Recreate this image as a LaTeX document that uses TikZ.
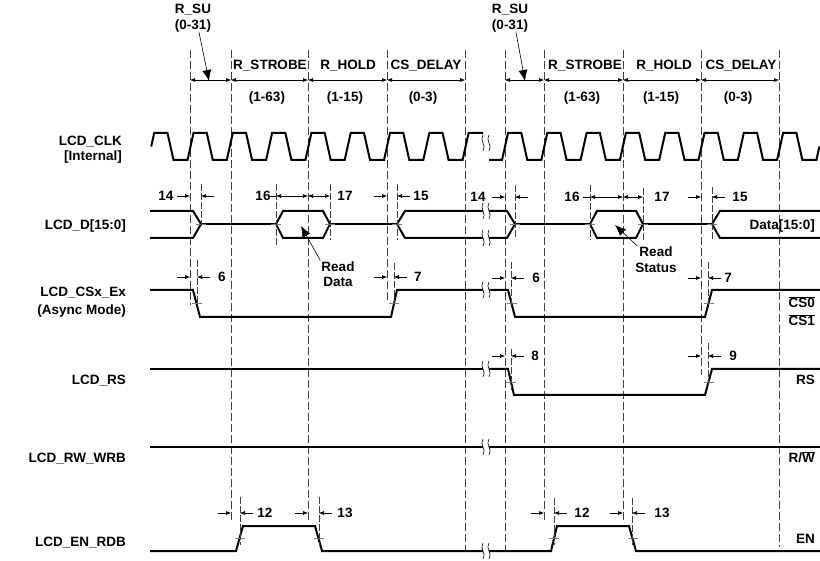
\documentclass[tikz,border=0pt]{standalone}
\usepackage{fontspec}
\setmainfont{Liberation Sans}
\usetikzlibrary{arrows.meta}
\tikzstyle{sig} = [line width=2pt, line join=miter]
\tikzstyle{guide} = [line width=0.6pt, black!75, dash pattern=on 8pt off 3pt]
\tikzstyle{extline} = [line width=0.5pt, black!75, dash pattern=on 7pt off 2pt]
\tikzstyle{dimarrow} = [line width=0.6pt, {Latex[length=5pt,width=4pt]}-{Latex[length=5pt,width=4pt]}]
\tikzstyle{toarrow} = [line width=0.6pt, -{Latex[length=5pt,width=4pt]}]
\tikzstyle{ptr} = [line width=0.6pt, -{Latex[length=11pt,width=9pt]}]
\tikzstyle{midtick} = [line width=0.5pt, black!50]
\tikzstyle{brk} = [line width=0.6pt]
\tikzstyle{lbl} = [font=\fontsize{13.5}{15}\selectfont\bfseries, inner sep=1pt]
\tikzstyle{flat} = [lbl, text height=10pt, text depth=0pt]

\begin{document}
\begin{tikzpicture}[x=1pt, y=-1pt]
\useasboundingbox (0,0) rectangle (820,561);

% guide lines
\foreach \x/\yb in {190/305, 231/522, 308/522, 387/303, 465/550, 505/550, 544/522, 623/522, 701/375, 779/547}
  \draw[guide] (\x,50) -- (\x,\yb);

% register fields
\foreach \a/\b in {190/231, 231/308, 308/387, 387/465, 505/544, 544/623, 623/701, 701/779}
  \draw[dimarrow] (\a,80) -- (\b,80);
\node[lbl, align=center] (suA) at (193,18) {R\_SU\\[1pt](0-31)};
\node[lbl, align=center] (suB) at (510,18) {R\_SU\\[1pt](0-31)};
\coordinate (suAtip) at (209,81);
\coordinate (suBtip) at (525,81);
\draw[ptr] (suA.south) ++(6,-1) -- (suAtip);
\draw[ptr] (suB.south) ++(6,-1) -- (suBtip);
\foreach \x/\top/\bot [count=\i] in {270/R\_STROBE/(1-63), 348/R\_HOLD/(1-15), 426/CS\_DELAY/(0-3),
    585/R\_STROBE/(1-63), 664/R\_HOLD/(1-15), 741/CS\_DELAY/(0-3)} {
  \node[flat] (field\i) at (\x,65) {\top};
  \node[flat] (range\i) at ({\x-3},97) {\bot};
}

% signal names
\node[lbl, anchor=east, align=right] (clk) at (123,149.5) {LCD\_CLK\\{}[Internal]};
\node[flat, anchor=east] (dbus) at (127,224.5) {LCD\_D[15:0]};
\node[lbl, anchor=east, align=right] (csx) at (127,302) {LCD\_CSx\_Ex\\[3pt](Async Mode)};
\node[flat, anchor=east] (rs) at (127,380) {LCD\_RS};
\node[flat, anchor=east] (rwwrb) at (127,458) {LCD\_RW\_WRB};
\node[flat, anchor=east] (enrdb) at (127,541) {LCD\_EN\_RDB};

\node[flat, anchor=east] (datalbl) at (816,224.5) {Data[15:0]};
\node[flat, anchor=east] (cs0) at (816,303) {$\overline{\mbox{CS0}}$};
\node[flat, anchor=east] (cs1) at (816,321) {$\overline{\mbox{CS1}}$};
\node[flat, anchor=east] (rslbl) at (816,380) {RS};
\node[flat, anchor=east] (rwlbl) at (816,458) {R/$\overline{\mbox{W}}$};
\node[flat, anchor=east] (enlbl) at (816,538) {EN};

% LCD_CLK
\draw[sig] (151.2,146.5) -- (154.2,133)
  \foreach \k in {1,...,8} { -- ++(13.3,0) -- ++(6,27) -- ++(14,0) -- ++(6,-27) } -- (483,133);
\draw[sig] (489,160) -- (502,160) -- (508,133)
  \foreach \k in {1,...,7} { -- ++(13.3,0) -- ++(6,27) -- ++(14,0) -- ++(6,-27) }
  -- ++(13.3,0) -- ++(6,27) -- ++(14,0) -- ++(3,-13.5);

% LCD_D[15:0]
\draw[sig] (150,211) -- (193,211) -- (201,224) -- (193,238) -- (150,238);
\draw[sig] (201,224) -- (276,224);
\draw[sig] (276,224) -- (283,211) -- (323,211) -- (330,224) -- (323,238) -- (283,238) -- cycle;
\draw[sig] (330,224) -- (397,224);
\draw[sig] (483,211) -- (405,211) -- (397,224) -- (405,238) -- (483,238);
\draw[sig] (489,211) -- (507,211) -- (515,224) -- (507,238) -- (489,238);
\draw[sig] (515,224) -- (590,224);
\draw[sig] (590,224) -- (597,211) -- (636,211) -- (643,224) -- (636,238) -- (597,238) -- cycle;
\draw[sig] (643,224) -- (712,224);
\draw[sig] (820,211) -- (720,211) -- (712,224) -- (720,238) -- (820,238);

% LCD_CSx_Ex
\draw[sig] (150,290) -- (193,290) -- (200,317) -- (391,317) -- (397,290) -- (483,290);
\draw[sig] (489,290) -- (508,290) -- (515,317) -- (705,317) -- (712,290) -- (820,290);

% LCD_RS
\draw[sig] (150,369) -- (483,369);
\draw[sig] (489,369) -- (508,369) -- (514,395) -- (705,395) -- (712,369) -- (820,369);

% LCD_RW_WRB
\draw[sig] (150,447) -- (483,447);
\draw[sig] (489,447) -- (820,447);

% LCD_EN_RDB
\draw[sig] (150,551) -- (236,551) -- (243,526) -- (315,526) -- (322,551) -- (483,551);
\draw[sig] (489,551) -- (551,551) -- (557,526) -- (629,526) -- (636,551) -- (820,551);

% crossing marks
\foreach \x/\y in {201/224, 276/224, 330/224, 397/224, 515/224, 590/224, 643/224, 712/224,
    196.5/303.5, 394/303.5, 511.5/303.5, 708.5/303.5, 511/382, 708.5/382,
    239.5/538.5, 318.5/538.5, 554/538.5, 632.5/538.5}
  \draw[midtick] ({\x-5},\y) -- ({\x+5},\y);

% break
\foreach \y in {143, 211, 238, 290, 369, 447, 551}
  \foreach \x in {483, 489}
    \draw[brk] (\x,{\y-8}) .. controls ({\x-4},{\y-3}) and ({\x+4},{\y+3}) .. (\x,{\y+8});

% timing references
\foreach \x/\ya/\yb in {201/184/226, 276/184/245, 330/184/240, 397/184/240, 515/185/238, 590/185/240,
    643/188/240, 712/187/240, 197/260/305, 394/263/305, 511/262/305, 708/262/305,
    511/349/390, 708/343/385, 240/497/545, 319/497/545, 554/498/545, 632/498/545}
  \draw[extline] (\x,\ya) -- (\x,\yb);
\foreach \g/\e/\y/\t/\tx [count=\i] in {190/201/196/14/166, 387/397/196/15/421, 505/515/197/14/478,
    701/712/197/15/740, 190/197/277/6/222, 387/394/277/7/418, 505/511/278/6/536, 701/708/278/7/728,
    505/511/356/8/535, 701/708/356/9/733, 231/240/513/12/265, 308/319/513/13/345,
    544/554/513/12/582, 623/632/513/13/662} {
  \draw[toarrow] ({\g-13},\y) -- (\g,\y);
  \draw[toarrow] ({\e+13},\y) -- (\e,\y);
  \node[lbl] (t\i) at (\tx,\y) {\t};
}
\foreach \a/\b/\c/\y/\i in {276/308/330/196/1, 590/623/643/197/2} {
  \draw[line width=0.6pt] ({\a-7},\y) -- (\a,\y);
  \draw[dimarrow] (\a,\y) -- (\b,\y);
  \draw[dimarrow] (\b,\y) -- (\c,\y);
}
\node[lbl] (sixteenA) at (263,196) {16};
\node[lbl] (seventeenA) at (345,196) {17};
\node[lbl] (sixteenB) at (572,197) {16};
\node[lbl] (seventeenB) at (662,197) {17};

% read annotations
\node[lbl, align=center] (readdata) at (338,274) {Read\\Data};
\node[lbl, align=center] (readstatus) at (656,260) {Read\\[1pt]Status};
\coordinate (rdtip) at (301,226);
\coordinate (rstip) at (615,225);
\draw[ptr] (readdata.north west) -- (rdtip);
\draw[ptr] (readstatus.north west) ++(3,0) -- (rstip);
\end{tikzpicture}
\end{document}
